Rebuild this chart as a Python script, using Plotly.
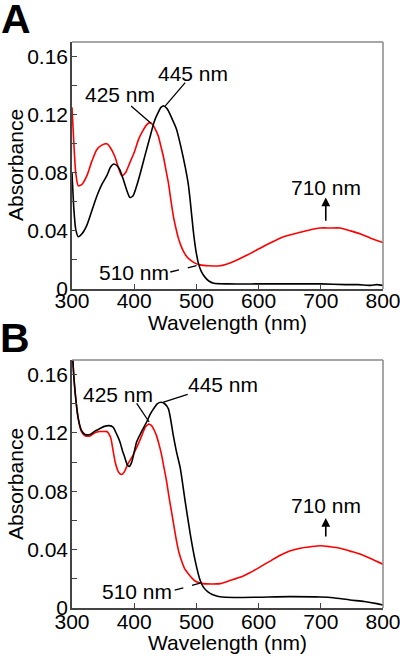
import plotly.graph_objects as go

# ---------------- data ----------------
# Panel A
wl_black_a = [300, 303, 306, 310, 316, 324, 332, 340, 348, 356, 362, 367, 372, 377, 382, 388, 393, 398,
              404, 410, 418, 425, 432, 438, 443, 448, 453, 460, 468, 475, 482, 487, 490, 495, 499, 503,
              508, 514, 520, 528, 550, 600, 650, 700, 740, 760, 780, 790, 800]
abs_black_a = [0.080, 0.055, 0.041, 0.036, 0.038, 0.044, 0.054, 0.064, 0.072, 0.078, 0.084, 0.086, 0.085,
               0.082, 0.076, 0.068, 0.063, 0.064, 0.071, 0.080, 0.093, 0.104, 0.115, 0.121, 0.125, 0.126,
               0.124, 0.118, 0.110, 0.098, 0.084, 0.072, 0.061, 0.040, 0.027, 0.018, 0.012, 0.008, 0.0055,
               0.004, 0.0035, 0.0035, 0.0035, 0.0035, 0.003, 0.003, 0.0025, 0.003, 0.0025]

wl_red_a = [300, 303, 306, 310, 316, 324, 332, 340, 348, 356, 362, 369, 375, 380, 386, 393, 400, 407,
            414, 420, 425, 430, 435, 439, 443, 447, 451, 455, 459, 463, 467, 471, 475, 479, 485, 490,
            497, 506, 520, 538, 560, 580, 602, 620, 640, 667, 685, 699, 715, 731, 748, 763, 780, 800]
abs_red_a = [0.125, 0.100, 0.080, 0.071, 0.072, 0.078, 0.088, 0.096, 0.099, 0.100, 0.097, 0.091, 0.083,
             0.078, 0.080, 0.087, 0.094, 0.103, 0.109, 0.113, 0.1145, 0.113, 0.109, 0.105, 0.098, 0.091,
             0.082, 0.073, 0.061, 0.050, 0.042, 0.035, 0.030, 0.026, 0.022, 0.020, 0.018, 0.0166, 0.016,
             0.016, 0.019, 0.023, 0.028, 0.032, 0.036, 0.039, 0.041, 0.042, 0.042, 0.042, 0.040, 0.038,
             0.035, 0.032]

# Panel B
wl_black_b = [300, 302, 305, 310, 315, 321, 329, 336, 345, 352, 360, 366, 372, 377, 381, 385, 389, 392,
              396, 404, 412, 420, 426, 431, 437, 443, 449, 455, 463, 468, 474, 482, 490, 498, 506, 511,
              516, 522, 530, 538, 560, 600, 650, 700, 720, 747, 770, 790, 800]
abs_black_b = [0.185, 0.165, 0.148, 0.130, 0.122, 0.119, 0.119, 0.121, 0.123, 0.1245, 0.125, 0.124, 0.119,
               0.114, 0.108, 0.103, 0.098, 0.097, 0.100, 0.114, 0.121, 0.1275, 0.133, 0.1365, 0.140, 0.141,
               0.140, 0.1365, 0.118, 0.107, 0.096, 0.073, 0.051, 0.0325, 0.019, 0.0145, 0.012, 0.010,
               0.0085, 0.0077, 0.0072, 0.0074, 0.0078, 0.0075, 0.007, 0.0055, 0.0045, 0.003, 0.002]

wl_red_b = [300, 302, 305, 310, 315, 321, 329, 336, 345, 352, 356, 362, 366, 370, 375, 380, 385, 390,
            396, 404, 412, 418, 423, 428, 432, 436, 440, 444, 448, 452, 456, 460, 464, 468, 472, 476,
            481, 487, 494, 500, 511, 525, 538, 555, 570, 585, 602, 618, 634, 650, 667, 684, 699, 715,
            731, 747, 763, 780, 800]
abs_red_b = [0.185, 0.165, 0.148, 0.130, 0.121, 0.118, 0.118, 0.120, 0.121, 0.121, 0.121, 0.117, 0.108,
             0.099, 0.093, 0.0915, 0.094, 0.099, 0.103, 0.110, 0.118, 0.124, 0.126, 0.125, 0.122, 0.118,
             0.112, 0.105, 0.096, 0.087, 0.076, 0.066, 0.056, 0.046, 0.038, 0.0325, 0.027, 0.0235, 0.020,
             0.018, 0.0167, 0.0165, 0.0167, 0.019, 0.021, 0.024, 0.028, 0.032, 0.036, 0.039, 0.041, 0.042,
             0.0427, 0.042, 0.041, 0.039, 0.037, 0.034, 0.030]

x_ticks = [300, 400, 500, 600, 700, 800]
y_tickvals = [0, 0.02, 0.04, 0.06, 0.08, 0.10, 0.12, 0.14, 0.16]
y_ticktext = ['0', '', '0.04', '', '0.08', '', '0.12', '', '0.16']

# ---------------- figure ----------------
W, H = 400, 662
FONT = "Liberation Sans, Arial, sans-serif"
FS = 21


def pxx(x):
    return x / W


def pxy(y):
    return 1 - y / H


fig = go.Figure()
for wl, ab, col, xa, ya in [
    (wl_red_a, abs_red_a, '#ff0000', 'x', 'y'),
    (wl_black_a, abs_black_a, '#000000', 'x', 'y'),
    (wl_red_b, abs_red_b, '#ff0000', 'x2', 'y2'),
    (wl_black_b, abs_black_b, '#000000', 'x2', 'y2'),
]:
    fig.add_trace(go.Scatter(x=wl, y=ab, mode='lines', xaxis=xa, yaxis=ya, showlegend=False,
                             line=dict(color=col, width=1.6, shape='spline', smoothing=0.6)))

xdom = [pxx(72), pxx(383)]
ydomA = [pxy(289), pxy(42)]
ydomB = [pxy(608), pxy(360)]

axis_common = dict(showline=True, linecolor='#444', linewidth=1.5, ticks='inside', ticklen=5,
                   tickwidth=1.2, tickcolor='#444', showgrid=False, zeroline=False, automargin=False,
                   ticklabeloverflow='allow',
                   tickfont=dict(family=FONT, size=FS, color='#000'))

fig.update_layout(
    width=W, height=H, margin=dict(l=0, r=0, t=0, b=0, autoexpand=False),
    paper_bgcolor='white', plot_bgcolor='white',
    xaxis=dict(domain=xdom, anchor='y', range=[300, 800], tickvals=x_ticks, ticklabelstandoff=-8,
               **axis_common),
    yaxis=dict(domain=ydomA, anchor='x', range=[0, 0.17], tickvals=y_tickvals, ticktext=y_ticktext,
               ticklabelstandoff=-2, **axis_common),
    xaxis2=dict(domain=xdom, anchor='y2', range=[300, 800], tickvals=x_ticks, ticklabelstandoff=-6,
                **axis_common),
    yaxis2=dict(domain=ydomB, anchor='x2', range=[0, 0.17], tickvals=y_tickvals, ticktext=y_ticktext,
                ticklabelstandoff=-2, **axis_common),
)

shapes = []
# gray frame top/right
for (t, b) in [(42, 289), (360, 608)]:
    shapes.append(dict(type='line', xref='paper', yref='paper', x0=pxx(72), x1=pxx(383), y0=pxy(t), y1=pxy(t),
                       line=dict(color='#888', width=1.5)))
    shapes.append(dict(type='line', xref='paper', yref='paper', x0=pxx(383), x1=pxx(383), y0=pxy(t), y1=pxy(b),
                       line=dict(color='#888', width=1.5)))

# leader lines panel A
shapes += [
    dict(type='line', xref='x', yref='y', x0=395, y0=0.126, x1=427, y1=0.114, line=dict(color='#000', width=1.3)),
    dict(type='line', xref='x', yref='y', x0=482, y0=0.142, x1=450, y1=0.126, line=dict(color='#000', width=1.3)),
    dict(type='line', xref='x', yref='y', x0=458, y0=0.0117, x1=506, y1=0.0166,
         line=dict(color='#000', width=1.3, dash='dash')),
    # panel B
    dict(type='line', xref='x2', yref='y2', x0=404, y0=0.1403, x1=424, y1=0.1275, line=dict(color='#000', width=1.3)),
    dict(type='line', xref='x2', yref='y2', x0=486, y0=0.1465, x1=446, y1=0.141, line=dict(color='#000', width=1.3)),
    dict(type='line', xref='x2', yref='y2', x0=465, y0=0.0122, x1=506, y1=0.017,
         line=dict(color='#000', width=1.3, dash='dash')),
]
fig.update_layout(shapes=shapes)

ann = []
tf = dict(family=FONT, size=FS, color='#000')
# panel letters
ann.append(dict(text='<b>A</b>', xref='paper', yref='paper', x=pxx(16), y=pxy(19), showarrow=False,
                font=dict(family=FONT, size=41, color='#000'), xanchor='center', yanchor='middle'))
ann.append(dict(text='<b>B</b>', xref='paper', yref='paper', x=pxx(15), y=pxy(338), showarrow=False,
                font=dict(family=FONT, size=41, color='#000'), xanchor='center', yanchor='middle'))
# axis titles
for cy in [165, 484]:
    ann.append(dict(text='Absorbance', xref='paper', yref='paper', x=pxx(15), y=pxy(cy), textangle=-90,
                    showarrow=False, font=tf, xanchor='center', yanchor='middle'))
for cy in [322, 642]:
    ann.append(dict(text='Wavelength (nm)', xref='paper', yref='paper', x=pxx(228), y=pxy(cy),
                    showarrow=False, font=tf, xanchor='center', yanchor='middle'))
# peak labels
for (xr, yr, x, y, t) in [('x', 'y', 377, 0.134, '425 nm'), ('x', 'y', 494.5, 0.148, '445 nm'),
                          ('x', 'y', 708, 0.070, '710 nm'), ('x', 'y', 400, 0.0117, '510 nm'),
                          ('x2', 'y2', 374, 0.1465, '425 nm'), ('x2', 'y2', 543, 0.153, '445 nm'),
                          ('x2', 'y2', 708, 0.070, '710 nm'), ('x2', 'y2', 404.5, 0.0115, '510 nm')]:
    ann.append(dict(text=t, xref=xr, yref=yr, x=x, y=y, showarrow=False, font=tf,
                    xanchor='center', yanchor='middle'))
# arrows at 710 nm
for (xr, yr, y0, y1) in [('x', 'y', 0.046, 0.063), ('x2', 'y2', 0.048, 0.0617)]:
    ann.append(dict(text='', xref=xr, yref=yr, x=708, y=y1, axref=xr, ayref=yr, ax=708, ay=y0,
                    showarrow=True, arrowhead=2, arrowsize=1.1, arrowwidth=1.6, arrowcolor='#000'))
fig.update_layout(annotations=ann)

fig.write_html("out.html", config={'displayModeBar': False},
               post_script="document.body.style.margin='0';")
